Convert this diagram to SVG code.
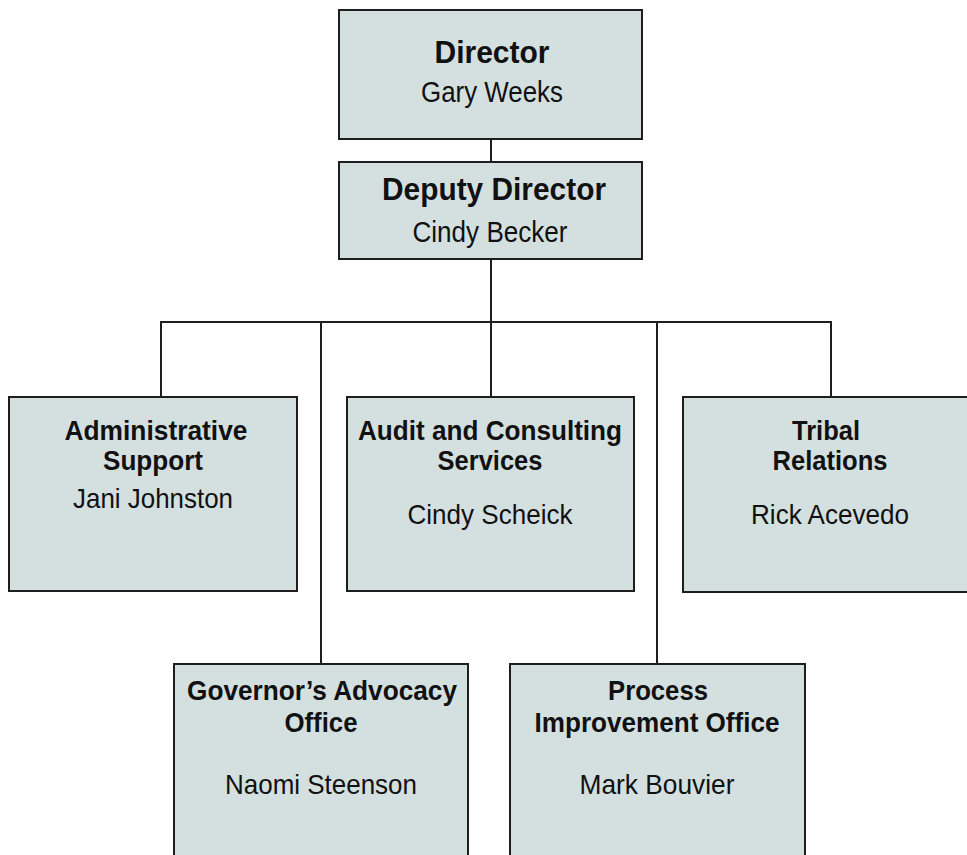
<svg xmlns="http://www.w3.org/2000/svg" width="967" height="855" viewBox="0 0 967 855">
  <style>
    .box { fill: #d4e0e0; stroke: #1e1e1e; stroke-width: 2; }
    .link { fill: none; stroke: #1e1e1e; stroke-width: 2; }
    text { font-family: "Liberation Sans", Arial, sans-serif; fill: #111; text-anchor: middle; }
    .t1 { font-size: 31px; font-weight: bold; }
    .n1 { font-size: 30px; }
    .t2 { font-size: 28px; font-weight: bold; }
    .n2 { font-size: 28px; }
  </style>
  <rect width="967" height="855" fill="#ffffff"/>

  <g id="connectors">
    <line class="link" x1="491" y1="139" x2="491" y2="162"/>
    <line class="link" x1="491" y1="259" x2="491" y2="397"/>
    <polyline class="link" points="161,397 161,322 831,322 831,397"/>
    <line class="link" x1="321" y1="322" x2="321" y2="664"/>
    <line class="link" x1="657" y1="322" x2="657" y2="664"/>
  </g>

  <g id="director">
    <rect class="box" x="339" y="10" width="303" height="129"/>
    <text class="t1" x="492" y="63" textLength="115" lengthAdjust="spacingAndGlyphs">Director</text>
    <text class="n1" x="492" y="102" textLength="142" lengthAdjust="spacingAndGlyphs">Gary Weeks</text>
  </g>

  <g id="deputy-director">
    <rect class="box" x="339" y="162" width="303" height="97"/>
    <text class="t1" x="494" y="200" textLength="224" lengthAdjust="spacingAndGlyphs">Deputy Director</text>
    <text class="n1" x="490" y="242" textLength="155" lengthAdjust="spacingAndGlyphs">Cindy Becker</text>
  </g>

  <g id="administrative-support">
    <rect class="box" x="9" y="397" width="288" height="194"/>
    <text class="t2" x="156" y="440" textLength="183" lengthAdjust="spacingAndGlyphs">Administrative</text>
    <text class="t2" x="153" y="470" textLength="100" lengthAdjust="spacingAndGlyphs">Support</text>
    <text class="n2" x="153" y="508" textLength="160" lengthAdjust="spacingAndGlyphs">Jani Johnston</text>
  </g>

  <g id="audit-consulting">
    <rect class="box" x="347" y="397" width="287" height="194"/>
    <text class="t2" x="490" y="440" textLength="264" lengthAdjust="spacingAndGlyphs">Audit and Consulting</text>
    <text class="t2" x="490" y="470" textLength="105" lengthAdjust="spacingAndGlyphs">Services</text>
    <text class="n2" x="490" y="524" textLength="165" lengthAdjust="spacingAndGlyphs">Cindy Scheick</text>
  </g>

  <g id="tribal-relations">
    <rect class="box" x="683" y="397" width="294" height="195"/>
    <text class="t2" x="826" y="440" textLength="68" lengthAdjust="spacingAndGlyphs">Tribal</text>
    <text class="t2" x="830" y="470" textLength="115" lengthAdjust="spacingAndGlyphs">Relations</text>
    <text class="n2" x="830" y="524" textLength="158" lengthAdjust="spacingAndGlyphs">Rick Acevedo</text>
  </g>

  <g id="governors-advocacy">
    <rect class="box" x="174" y="664" width="294" height="200"/>
    <text class="t2" x="322" y="700" textLength="270" lengthAdjust="spacingAndGlyphs">Governor’s Advocacy</text>
    <text class="t2" x="321" y="732" textLength="73" lengthAdjust="spacingAndGlyphs">Office</text>
    <text class="n2" x="321" y="794" textLength="192" lengthAdjust="spacingAndGlyphs">Naomi Steenson</text>
  </g>

  <g id="process-improvement">
    <rect class="box" x="510" y="664" width="295" height="200"/>
    <text class="t2" x="658" y="700" textLength="100" lengthAdjust="spacingAndGlyphs">Process</text>
    <text class="t2" x="657" y="732" textLength="245" lengthAdjust="spacingAndGlyphs">Improvement Office</text>
    <text class="n2" x="657" y="794" textLength="155" lengthAdjust="spacingAndGlyphs">Mark Bouvier</text>
  </g>
</svg>
